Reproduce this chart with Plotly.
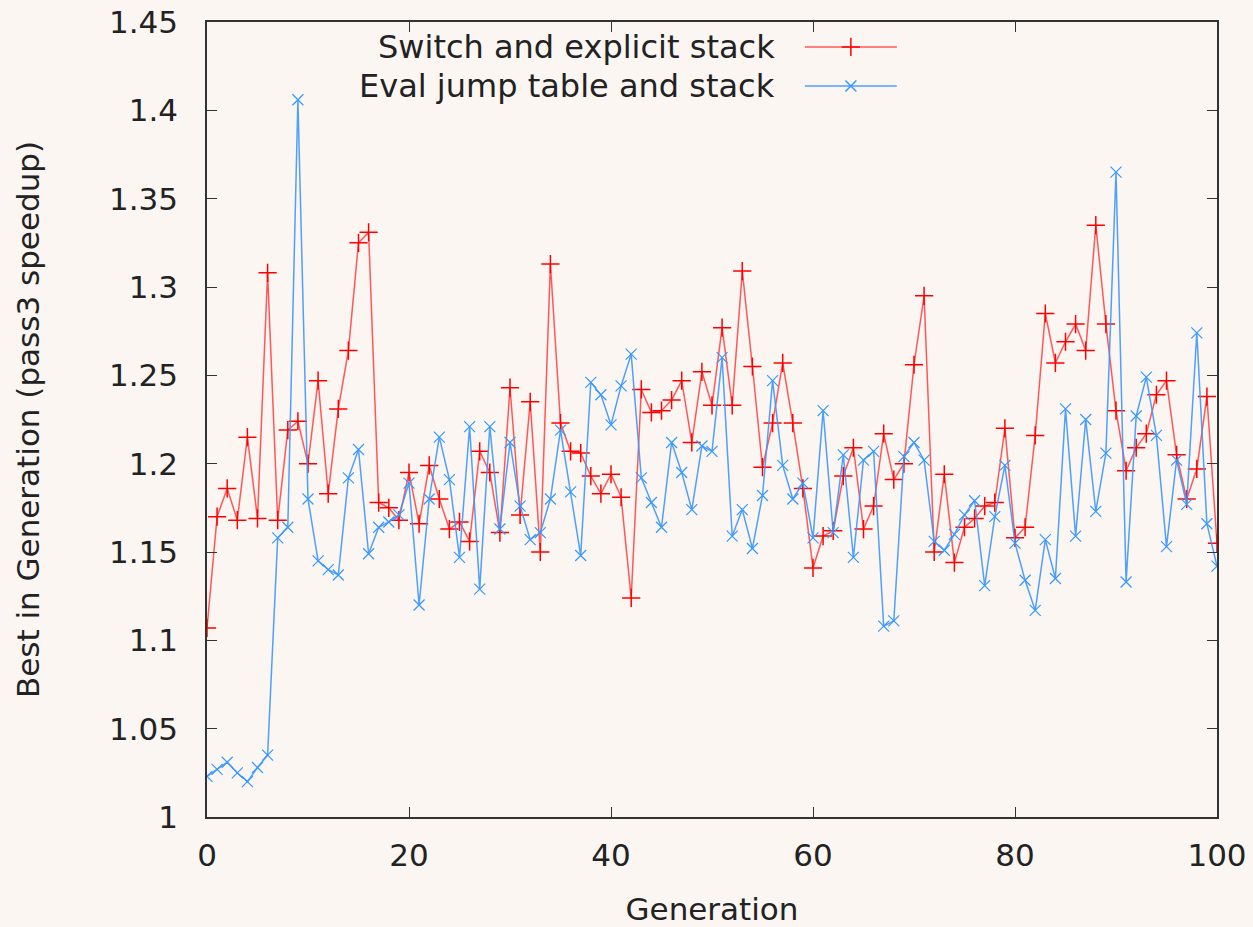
import plotly.graph_objects as go

generations = list(range(101))

switch_stack = [
    1.107, 1.170, 1.186, 1.168, 1.215, 1.169, 1.308, 1.168, 1.219, 1.224,
    1.200, 1.247, 1.183, 1.231, 1.264, 1.325, 1.331, 1.178, 1.175, 1.168,
    1.195, 1.166, 1.199, 1.180, 1.163, 1.167, 1.156, 1.207, 1.195, 1.161,
    1.243, 1.171, 1.235, 1.150, 1.313, 1.223, 1.207, 1.206, 1.193, 1.183,
    1.194, 1.181, 1.124, 1.242, 1.229, 1.230, 1.236, 1.247, 1.212, 1.252,
    1.233, 1.277, 1.233, 1.309, 1.255, 1.198, 1.223, 1.257, 1.223, 1.186,
    1.141, 1.159, 1.162, 1.193, 1.209, 1.163, 1.176, 1.217, 1.191, 1.200,
    1.256, 1.295, 1.150, 1.194, 1.144, 1.164, 1.169, 1.176, 1.178, 1.220,
    1.158, 1.164, 1.216, 1.285, 1.257, 1.269, 1.279, 1.264, 1.335, 1.279,
    1.230, 1.196, 1.209, 1.217, 1.239, 1.247, 1.205, 1.180, 1.197, 1.238,
    1.155,
]

eval_jump = [
    1.023, 1.027, 1.031, 1.025, 1.020, 1.028, 1.035, 1.158, 1.164, 1.406,
    1.180, 1.145, 1.140, 1.137, 1.192, 1.208, 1.149, 1.164, 1.167, 1.171,
    1.189, 1.120, 1.180, 1.215, 1.191, 1.147, 1.221, 1.129, 1.221, 1.163,
    1.212, 1.176, 1.157, 1.161, 1.180, 1.219, 1.184, 1.148, 1.246, 1.239,
    1.222, 1.244, 1.262, 1.192, 1.178, 1.164, 1.212, 1.195, 1.174, 1.210,
    1.207, 1.260, 1.159, 1.174, 1.152, 1.182, 1.247, 1.199, 1.180, 1.189,
    1.158, 1.230, 1.161, 1.205, 1.147, 1.202, 1.207, 1.108, 1.111, 1.204,
    1.212, 1.202, 1.156, 1.151, 1.160, 1.171, 1.179, 1.131, 1.170, 1.199,
    1.155, 1.134, 1.117, 1.157, 1.135, 1.231, 1.159, 1.225, 1.173, 1.206,
    1.365, 1.133, 1.227, 1.249, 1.216, 1.153, 1.202, 1.177, 1.274, 1.166,
    1.142,
]

series_names = ["Switch and explicit stack", "Eval jump table and stack"]

BG = "#fcf6f3"
RED_LINE = "rgba(255,60,60,0.85)"
RED_MARK = "#ff0000"
BLUE_LINE = "rgba(60,150,255,0.9)"
BLUE_MARK = "#3399ff"
FONT = "DejaVu Sans, Liberation Sans, sans-serif"
TXT = "#222222"
FS = 31

fig = go.Figure()

fig.add_trace(go.Scatter(
    x=generations, y=switch_stack, mode="lines+markers", name=series_names[0],
    line=dict(color=RED_LINE, width=1.5),
    marker=dict(symbol="cross-thin", size=13, line=dict(color=RED_MARK, width=1.5)),
    showlegend=False,
))
fig.add_trace(go.Scatter(
    x=generations, y=eval_jump, mode="lines+markers", name=series_names[1],
    line=dict(color=BLUE_LINE, width=1.5),
    marker=dict(symbol="x-thin", size=11, line=dict(color=BLUE_MARK, width=1.2)),
    showlegend=False,
))

# legend samples (gnuplot style: text left, sample right) on an overlay axis
leg_y = [0.9686, 0.9195]
leg_x0, leg_x1, leg_xm = 0.592, 0.683, 0.6375
leg_styles = [
    (RED_LINE, RED_MARK, "cross-thin", 13),
    (BLUE_LINE, BLUE_MARK, "x-thin", 11),
]
for name, yy, (lc, mc, sym, sz) in zip(series_names, leg_y, leg_styles):
    fig.add_trace(go.Scatter(
        x=[leg_x0, leg_x1], y=[yy, yy], mode="lines", xaxis="x2", yaxis="y2",
        line=dict(color=lc, width=1.5), showlegend=False, hoverinfo="skip",
    ))
    fig.add_trace(go.Scatter(
        x=[leg_xm], y=[yy], mode="markers", xaxis="x2", yaxis="y2",
        marker=dict(symbol=sym, size=sz, line=dict(color=mc, width=1.5)),
        showlegend=False, hoverinfo="skip",
    ))
    fig.add_annotation(
        x=leg_x0 - 0.028, y=yy, xref="x2", yref="y2", text=name,
        showarrow=False, xanchor="right", yanchor="middle",
        font=dict(family=FONT, size=32, color=TXT),
    )

axis_common = dict(
    showline=True, linecolor="#333333", linewidth=1.5, mirror="ticks",
    ticks="inside", ticklen=10, tickwidth=1.2, tickcolor="#333333",
    showgrid=False, zeroline=False, automargin=False,
    tickfont=dict(family=FONT, size=FS, color=TXT),
)

fig.update_layout(
    width=1253, height=927,
    paper_bgcolor=BG, plot_bgcolor=BG,
    margin=dict(l=207, r=36, t=22, b=110),
    xaxis=dict(range=[0, 100], dtick=20, tick0=0, ticklabelstandoff=10,
               title=dict(text="Generation", font=dict(family=FONT, size=FS, color=TXT), standoff=26),
               **axis_common),
    yaxis=dict(range=[1, 1.45], dtick=0.05, tick0=1, ticklabelstandoff=21,
               title=dict(text="Best in Generation (pass3 speedup)", font=dict(family=FONT, size=FS, color=TXT), standoff=60),
               **axis_common),
    xaxis2=dict(range=[0, 1], overlaying="x", visible=False),
    yaxis2=dict(range=[0, 1], overlaying="y", visible=False),
    showlegend=False,
)

fig.write_html("out.html")
